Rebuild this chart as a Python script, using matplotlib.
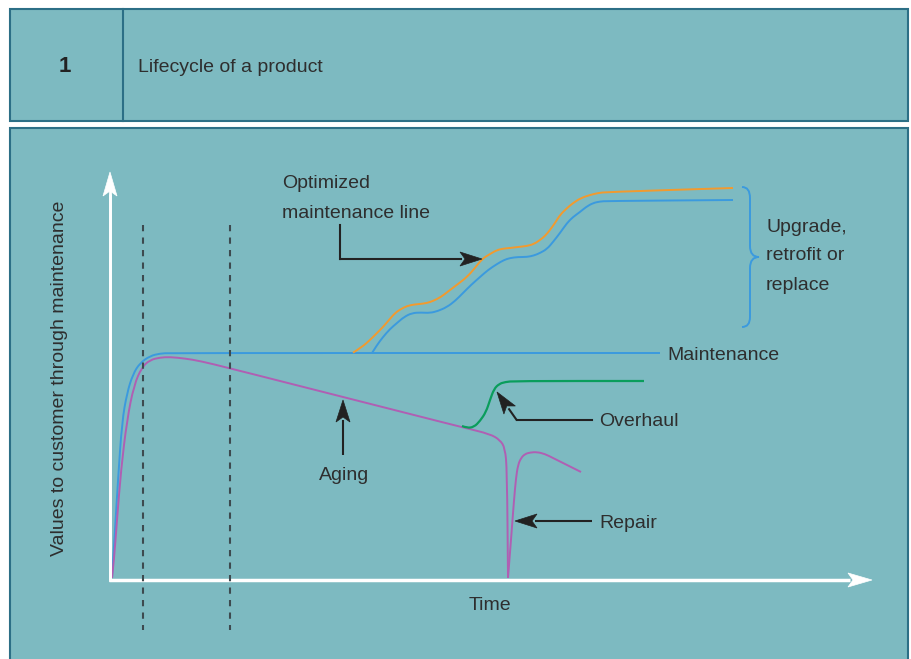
import matplotlib
matplotlib.use("Agg")
import matplotlib.pyplot as plt
from matplotlib.patches import Rectangle, Polygon, PathPatch
from matplotlib.path import Path
import numpy as np

plt.rcParams['font.family'] = ['Liberation Sans', 'DejaVu Sans']

# curves (x = time px, y = value px, y grows downward)
maint_x = [112, 115, 118, 122, 127, 133, 140, 150, 160, 170, 660]
maint_y = [578, 530, 480, 422, 393, 374, 363, 356, 353.5, 353, 353]

aging_x = [112, 114, 117, 121, 127, 134, 142, 150, 160, 170, 185, 200, 229,
           465, 490, 500, 505, 507, 508]
aging_y = [578, 560, 520, 470, 420, 385, 367, 360, 357.5, 357, 358.5, 361, 368,
           428, 434, 440, 448, 470, 578]

repair_x = [508, 511, 514, 516, 518, 521, 525, 530, 537, 545, 553, 565, 581]
repair_y = [578, 540, 500, 478, 465, 458, 454, 452.5, 452, 454, 458, 464, 472]

overhaul_x = [462, 467, 474, 480, 486, 490, 494, 499, 505, 515, 644]
overhaul_y = [426, 428, 427, 421, 412, 400, 389, 384, 382, 381, 381]

optim_x = [353, 362, 370, 377, 383, 389, 395, 401, 407, 414, 420, 427, 433, 441,
           450, 458, 467, 475, 482, 490, 497, 504, 510, 518, 527, 534, 540, 545,
           550, 555, 560, 566, 573, 581, 590, 598, 607, 733]
optim_y = [352.7, 347, 340, 333, 327, 320, 313, 309, 306, 304.5, 304, 303, 301,
           297, 290, 284, 277, 268, 259, 254, 250, 248.5, 248, 247, 246, 244,
           240, 236, 230, 223, 215, 209, 203, 198, 195, 193, 192, 188]

upgrade_x = [372, 377, 383, 390, 397, 404, 412, 421, 430, 438, 447, 455, 463,
             471, 480, 488, 497, 504, 510, 518, 527, 534, 540, 547, 553, 560,
             567, 573, 580, 586, 593, 600, 607, 733]
upgrade_y = [353, 345, 337, 329, 323, 317, 313, 312.5, 313, 311, 307, 301, 293,
             285, 277, 270, 264, 260, 258, 257, 257, 255.5, 253, 249, 242, 233,
             223, 217, 212, 207, 203, 201.5, 201, 200]

bg = '#7dbac1'
edge = '#2c6f86'
txt = '#2e2e2e'
blue = '#3b9ade'
orange = '#f29a2e'
purple = '#b05fb3'
green = '#0a9d5c'
fs = 14

fig = plt.figure(figsize=(9.11, 6.59), dpi=100)
ax = fig.add_axes([0, 0, 1, 1])
ax.set_xlim(0, 911)
ax.set_ylim(659, 0)
ax.axis('off')

# header box and chart box
ax.add_patch(Rectangle((10, 9), 898, 112, facecolor=bg, edgecolor=edge, lw=1.5))
ax.plot([123, 123], [9, 121], color=edge, lw=1.5)
ax.add_patch(Rectangle((10, 128), 898, 540, facecolor=bg, edgecolor=edge, lw=1.5))

ax.text(65, 67, '1', fontsize=16, fontweight='bold', color='#222', ha='center', va='center')
ax.text(138, 68, 'Lifecycle of a product', fontsize=fs, color=txt, va='center')


def curve(xs, ys, color, lw=1.4):
    # draw the read points as a smooth quadratic-bezier path
    pts = np.column_stack([xs, ys]).astype(float)
    verts = [pts[0]]
    codes = [Path.MOVETO]
    for i in range(1, len(pts) - 1):
        verts += [pts[i], (pts[i] + pts[i + 1]) / 2]
        codes += [Path.CURVE3, Path.CURVE3]
    verts.append(pts[-1])
    codes.append(Path.LINETO)
    ax.add_patch(PathPatch(Path(verts, codes), facecolor='none', edgecolor=color, lw=lw))


def arrow(tail, tip, color, lw=1.5, hl=22, hw=7, notch=5):
    tail = np.array(tail, float)
    tip = np.array(tip, float)
    d = tip - tail
    d /= np.hypot(*d)
    n = np.array([-d[1], d[0]])
    base = tip - d * hl
    ax.plot([tail[0], base[0] + d[0] * 2], [tail[1], base[1] + d[1] * 2], color=color, lw=lw,
            solid_capstyle='butt')
    pts = [tip, base + n * hw, base + d * notch, base - n * hw]
    ax.add_patch(Polygon(pts, closed=True, facecolor=color, edgecolor=color, lw=0.5))


# axes arrows
ax.plot([110, 110], [580, 190], color='white', lw=2)
arrow((110, 580), (110, 172), 'white', lw=2, hl=24, hw=7, notch=5)
arrow((109, 580), (872, 580), 'white', lw=2.5, hl=24, hw=7, notch=5)

# dashed phase lines
for xd in [143, 230]:
    ax.plot([xd, xd], [225, 630], color='#3d4a4f', lw=1.5, dashes=(3, 3))

# curves
curve(maint_x, maint_y, blue)
curve(upgrade_x, upgrade_y, blue)
curve(optim_x, optim_y, orange)
curve(aging_x, aging_y, purple)
curve(repair_x, repair_y, purple)
curve(overhaul_x, overhaul_y, green, lw=1.6)

# brace
verts = [(742, 187), (750, 187), (750, 198), (750, 246), (750, 257), (759, 257),
         (750, 257), (750, 268), (750, 317), (750, 327), (742, 327)]
codes = [Path.MOVETO, Path.CURVE3, Path.CURVE3, Path.LINETO, Path.CURVE3, Path.CURVE3,
         Path.CURVE3, Path.CURVE3, Path.LINETO, Path.CURVE3, Path.CURVE3]
ax.add_patch(PathPatch(Path(verts, codes), facecolor='none', edgecolor=blue, lw=1.4))

# annotation arrows
dark = '#222222'
ax.plot([340, 340], [225, 259], color=dark, lw=1.5)
arrow((339.3, 259), (482, 259), dark)
arrow((343, 455), (343, 400), dark)
ax.plot([517, 592], [420, 420], color=dark, lw=1.5)
arrow((517, 420.5), (497, 392), dark)
arrow((592, 521), (515, 521), dark)

# labels
ax.text(282, 183, 'Optimized', fontsize=fs, color=txt, va='center')
ax.text(282, 213, 'maintenance line', fontsize=fs, color=txt, va='center')
ax.text(667, 356, 'Maintenance', fontsize=fs, color=txt, va='center')
ax.text(599, 422, 'Overhaul', fontsize=fs, color=txt, va='center')
ax.text(599, 524, 'Repair', fontsize=fs, color=txt, va='center')
ax.text(344, 475, 'Aging', fontsize=fs, color=txt, ha='center', va='center')
ax.text(490, 606, 'Time', fontsize=fs, color=txt, ha='center', va='center')
for i, line in enumerate(['Upgrade,', 'retrofit or', 'replace']):
    ax.text(766, 227 + 29 * i, line, fontsize=fs, color=txt, va='center')
ax.text(60, 378, 'Values to customer through maintenance', fontsize=fs, color=txt,
        rotation=90, ha='center', va='center')

fig.savefig('out.png', dpi=100, facecolor='white')
